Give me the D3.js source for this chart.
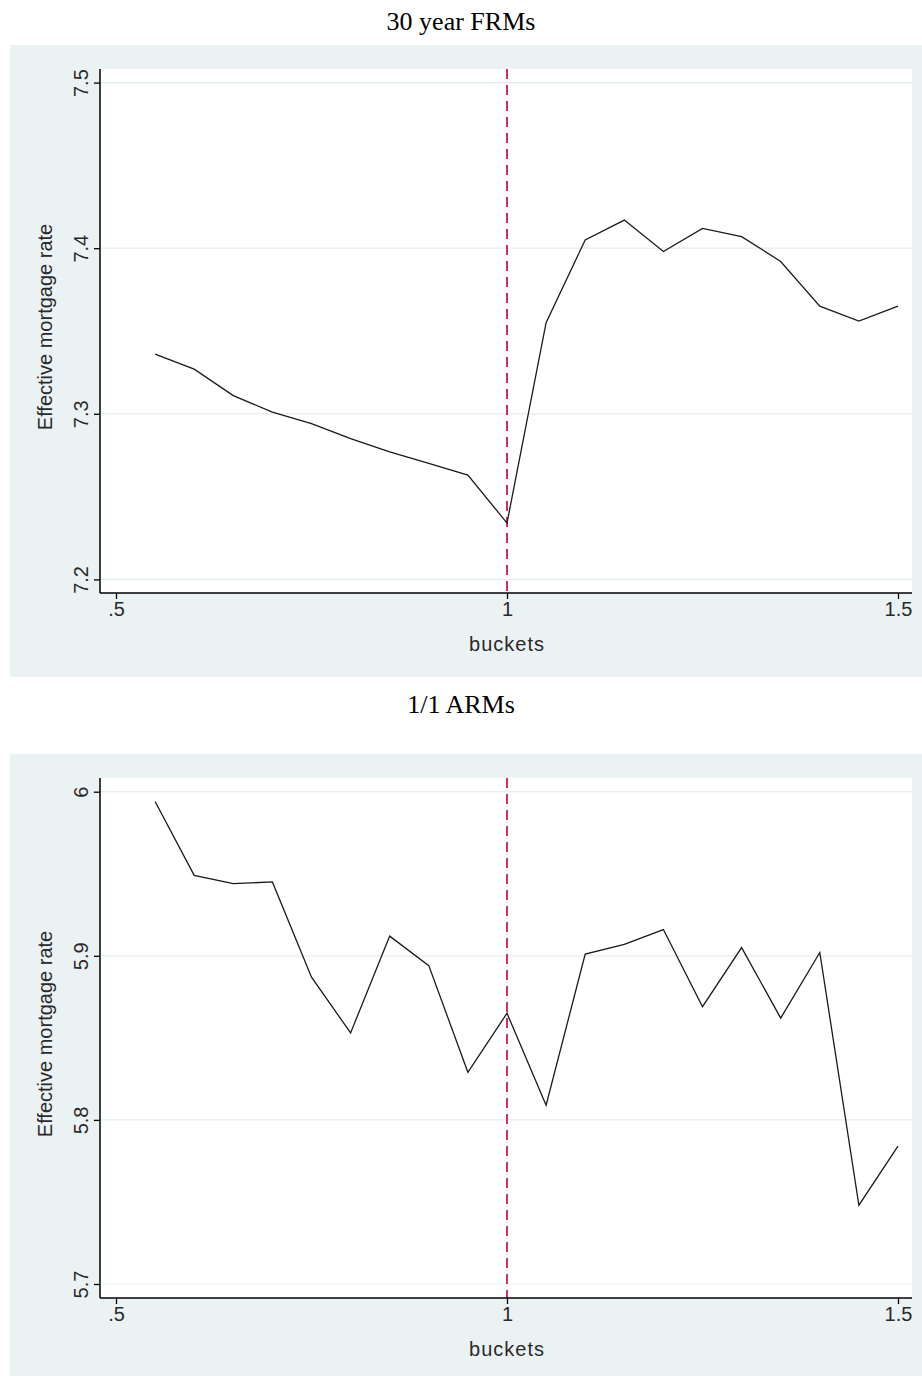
<!DOCTYPE html>
<html>
<head>
<meta charset="utf-8">
<script src="https://cdn.jsdelivr.net/npm/d3@7"></script>
<style>
    body { margin: 0; background: #ffffff; }
    svg { display: block; }
</style>
</head>
<body>
<div id="chart"></div>
<script>
/**
 * Data.
 */
var buckets = [0.55, 0.6, 0.65, 0.7, 0.75, 0.8, 0.85, 0.9, 0.95, 1.0,
    1.05, 1.1, 1.15, 1.2, 1.25, 1.3, 1.35, 1.4, 1.45, 1.5];

var frmRates = [7.336, 7.327, 7.311, 7.301, 7.294, 7.285, 7.277, 7.270, 7.263, 7.234,
    7.355, 7.405, 7.417, 7.398, 7.412, 7.407, 7.392, 7.365, 7.356, 7.365];

var armRates = [5.994, 5.949, 5.944, 5.945, 5.887, 5.853, 5.912, 5.894, 5.829, 5.865,
    5.809, 5.901, 5.907, 5.916, 5.869, 5.905, 5.862, 5.902, 5.748, 5.784];

var xTicks = [0.5, 1, 1.5];
var frmTicks = [7.2, 7.3, 7.4, 7.5];
var armTicks = [5.7, 5.8, 5.9, 6];

var cutoff = 1;

var width = 922;
var height = 1376;
var bg = "#eaf2f3";

var svg = d3.select("#chart").append("svg")
    .attr("width", width)
    .attr("height", height);

// stata style: ".5" instead of "0.5"
var tickFormat = d => String(d).replace(/^0\./, ".");

function makePanel(opts) {
    // title above the panel
    svg.append("text")
        .attr("x", 461)
        .attr("y", opts.titleY)
        .attr("text-anchor", "middle")
        .style("font-family", "'Liberation Serif', 'Times New Roman', serif")
        .style("font-size", "26px")
        .text(opts.title);

    svg.append("rect")
        .attr("x", 10)
        .attr("y", opts.bgTop)
        .attr("width", width - 10)
        .attr("height", opts.bgBottom - opts.bgTop)
        .attr("fill", bg);

    var left = 100, right = 912;

    svg.append("rect")
        .attr("x", left)
        .attr("y", opts.plotTop)
        .attr("width", right - left)
        .attr("height", opts.plotBottom - opts.plotTop)
        .attr("fill", "#ffffff");

    var x = d3.scaleLinear()
        .domain([0.5, 1.5])
        .range([116, 898]);

    var y = d3.scaleLinear()
        .domain(opts.yDomain)
        .range(opts.yRange);

    var g = svg.append("g");

    // grid lines
    g.append("g")
        .selectAll("line")
        .data(opts.yTicks)
        .enter()
        .append("line")
        .attr("x1", left)
        .attr("x2", right)
        .attr("y1", d => y(d))
        .attr("y2", d => y(d))
        .attr("stroke", "#e4edef")
        .attr("stroke-width", 1.2);

    // cutoff line
    g.append("line")
        .attr("x1", x(cutoff))
        .attr("x2", x(cutoff))
        .attr("y1", opts.plotTop)
        .attr("y2", opts.plotBottom)
        .attr("stroke", "#cc0d3d")
        .attr("stroke-width", 1.7)
        .attr("stroke-dasharray", "10,6");

    var line = d3.line()
        .x((d, i) => x(buckets[i]))
        .y(d => y(d));

    g.append("path")
        .datum(opts.values)
        .attr("d", line)
        .attr("fill", "none")
        .attr("stroke", "#1a1a1a")
        .attr("stroke-width", 1.3);

    // axes
    var xAxis = d3.axisBottom(x)
        .tickValues(xTicks)
        .tickFormat(tickFormat)
        .tickSize(6)
        .tickSizeOuter(0);

    var yAxis = d3.axisLeft(y)
        .tickValues(opts.yTicks)
        .tickFormat(tickFormat)
        .tickSize(6)
        .tickSizeOuter(0);

    var gx = svg.append("g")
        .attr("transform", `translate(0,${opts.plotBottom})`)
        .call(xAxis);
    gx.select(".domain")
        .attr("d", `M${left},0H${right}`)
        .attr("stroke-width", 1.5);
    gx.selectAll(".tick line").attr("stroke-width", 1.3);
    gx.selectAll("text")
        .attr("y", 9)
        .attr("dy", "0.71em")
        .style("font-family", "'Liberation Sans', Arial, sans-serif")
        .style("font-size", "20px")
        .attr("fill", "#2a2a2a");

    var gy = svg.append("g")
        .attr("transform", `translate(${left},0)`)
        .call(yAxis);
    gy.select(".domain")
        .attr("d", `M0,${opts.plotTop}V${opts.plotBottom}`)
        .attr("stroke-width", 1.5);
    gy.selectAll(".tick line").attr("stroke-width", 1.3);
    gy.selectAll("text")
        .attr("x", null)
        .attr("dy", null)
        .attr("text-anchor", "middle")
        .attr("transform", "translate(-12,0) rotate(-90)")
        .style("font-family", "'Liberation Sans', Arial, sans-serif")
        .style("font-size", "20px")
        .attr("fill", "#2a2a2a");

    // axis titles
    svg.append("text")
        .attr("x", 507)
        .attr("y", opts.plotBottom + 58)
        .attr("text-anchor", "middle")
        .style("font-family", "'Liberation Sans', Arial, sans-serif")
        .style("font-size", "20px")
        .style("letter-spacing", "1px")
        .attr("fill", "#2a2a2a")
        .text("buckets");

    svg.append("text")
        .attr("transform", `translate(52,${(opts.plotTop + opts.plotBottom) / 2 - 4}) rotate(-90)`)
        .attr("text-anchor", "middle")
        .style("font-family", "'Liberation Sans', Arial, sans-serif")
        .style("font-size", "20px")
        .attr("fill", "#2a2a2a")
        .text("Effective mortgage rate");
}

makePanel({
    title: "30 year FRMs",
    titleY: 30,
    bgTop: 45,
    bgBottom: 677,
    plotTop: 69,
    plotBottom: 593,
    yDomain: [7.2, 7.5],
    yRange: [579.4, 82.6],
    yTicks: frmTicks,
    values: frmRates
});

makePanel({
    title: "1/1 ARMs",
    titleY: 713,
    bgTop: 754,
    bgBottom: 1376,
    plotTop: 778,
    plotBottom: 1298,
    yDomain: [5.7, 6],
    yRange: [1284, 791.7],
    yTicks: armTicks,
    values: armRates
});
</script>
</body>
</html>
